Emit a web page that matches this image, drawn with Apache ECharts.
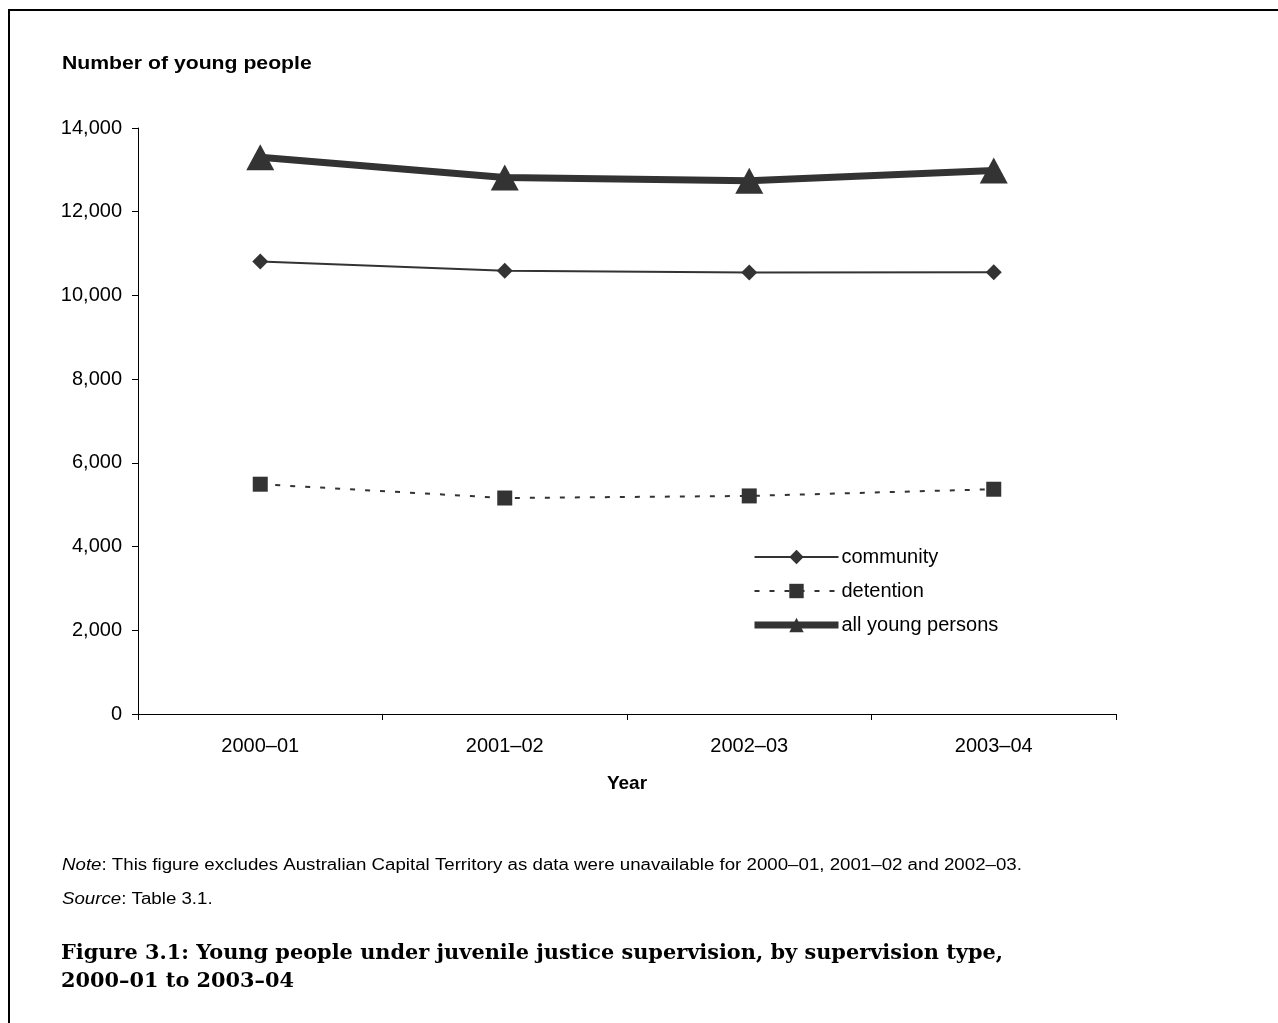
<!DOCTYPE html>
<html>
<head>
<meta charset="utf-8">
<script src="https://cdn.jsdelivr.net/npm/echarts@6/dist/echarts.min.js"></script>
<style>
  html, body { margin: 0; padding: 0; background: #fff; }
  #chart { width: 1278px; height: 1023px; }
</style>
</head>
<body>
<div id="chart"></div>
<script>
// Supervision years
const years = ['2000\u201301', '2001\u201302', '2002\u201303', '2003\u201304'];
// Number of young people under supervision, by type
const community = [10810, 10590, 10545, 10555];
const detention = [5490, 5160, 5210, 5370];
const allYoungPersons = [13300, 12815, 12740, 12985];
// Value axis ticks
const yMin = 0, yMax = 14000, yStep = 2000;

const ink = '#333333';
const sans = '"Liberation Sans", Arial, sans-serif';
const serif = '"DejaVu Serif", "Liberation Serif", serif';

const chart = echarts.init(document.getElementById('chart'), null, { renderer: 'canvas' });

chart.setOption({
  animation: false,
  backgroundColor: '#ffffff',
  grid: { left: 138, right: 162, top: 128, bottom: 309, containLabel: false },
  xAxis: {
    type: 'category',
    data: years,
    boundaryGap: true,
    name: 'Year',
    nameLocation: 'middle',
    nameGap: 60,
    nameTextStyle: { fontFamily: sans, fontSize: 19, fontWeight: 'bold', color: '#000' },
    axisLine: { lineStyle: { color: '#000', width: 1 } },
    axisTick: { show: true, length: 6, inside: false, lineStyle: { color: '#000' } },
    axisLabel: { fontFamily: sans, fontSize: 20, color: '#000', margin: 22 },
    splitLine: { show: false }
  },
  yAxis: {
    type: 'value',
    min: yMin, max: yMax, interval: yStep,
    axisLine: { show: true, lineStyle: { color: '#000', width: 1 } },
    axisTick: { show: true, length: 6, lineStyle: { color: '#000' } },
    axisLabel: {
      fontFamily: sans, fontSize: 20, color: '#000', margin: 16,
      padding: [3, 0, 0, 0],
      formatter: v => v.toLocaleString('en-US')
    },
    splitLine: { show: false }
  },
  legend: {
    orient: 'vertical',
    left: 746,
    top: 542,
    itemWidth: 84,
    itemHeight: 18,
    itemGap: 14,
    data: [
      { name: 'community' },
      { name: 'detention' },
      { name: 'all young persons', lineStyle: { width: 7 } }
    ],
    textStyle: { fontFamily: sans, fontSize: 20, color: '#000', padding: [0, 0, 0, -2] }
  },
  series: [
    {
      name: 'community', type: 'line', data: community,
      symbol: 'diamond', symbolSize: 16,
      itemStyle: { color: ink },
      lineStyle: { color: ink, width: 2 }
    },
    {
      name: 'detention', type: 'line', data: detention,
      symbol: 'rect', symbolSize: 15,
      itemStyle: { color: ink },
      lineStyle: { color: ink, width: 2, type: [5, 10] }
    },
    {
      name: 'all young persons', type: 'line', data: allYoungPersons,
      symbol: 'triangle', symbolSize: [28, 26],
      itemStyle: { color: ink },
      lineStyle: { color: ink, width: 7 }
    }
  ],
  graphic: [
    // page frame
    { type: 'polyline', shape: { points: [[9, 1023], [9, 10], [1278, 10]] }, style: { stroke: '#000', lineWidth: 2, fill: null } },
    { type: 'text', x: 62, y: 54, scaleX: 1.116, style: { text: 'Number of young people', font: 'bold 19px ' + sans, fill: '#000' } },
    { type: 'text', x: 62, y: 858, scaleX: 1.168, style: {
        rich: {
          i: { font: 'italic 16px ' + sans, fill: '#000' },
          n: { font: '16px ' + sans, fill: '#000' }
        },
        text: '{i|Note}{n|: This figure excludes Australian Capital Territory as data were unavailable for 2000\u201301, 2001\u201302 and 2002\u201303.}'
      } },
    { type: 'text', x: 62, y: 892, scaleX: 1.168, style: {
        rich: {
          i: { font: 'italic 16px ' + sans, fill: '#000' },
          n: { font: '16px ' + sans, fill: '#000' }
        },
        text: '{i|Source}{n|: Table 3.1.}'
      } },
    { type: 'text', x: 61, y: 940, scaleX: 0.993, style: {
        text: 'Figure 3.1: Young people under juvenile justice supervision, by supervision type,\n2000\u201301 to 2003\u201304',
        font: 'bold 21px ' + serif, fill: '#000', lineHeight: 28
      } }
  ]
});
</script>
</body>
</html>
